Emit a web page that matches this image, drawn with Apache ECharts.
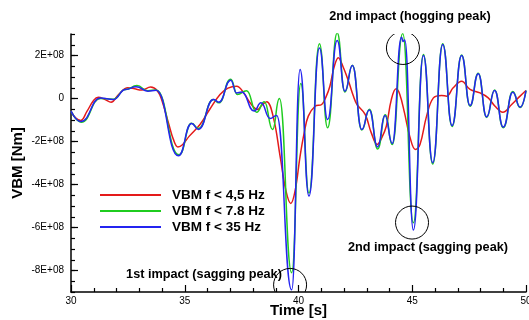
<!DOCTYPE html>
<html><head><meta charset="utf-8">
<script src="https://cdn.jsdelivr.net/npm/echarts@6/dist/echarts.min.js"></script>
<style>html,body{margin:0;padding:0;background:#fff}#c{width:529px;height:320px}</style>
</head><body><div id="c"></div>
<script>
// Series names
const seriesNames = ['VBM f < 4,5 Hz', 'VBM f < 7.8 Hz', 'VBM f < 35 Hz'];
const seriesColors = ['#e41a1a', '#1fcc1f', '#2424f0'];

// Red: VBM f < 4,5 Hz  (time [s], value [1E+08 Nm])
const redT = [30.0, 30.2, 30.43, 30.7, 31.0, 31.2, 31.5, 31.76, 32.1, 32.5, 32.8, 33.1, 33.5, 33.8, 34.0, 34.3, 34.5, 34.7, 34.9, 35.2, 35.67, 36.1, 36.55, 36.9, 37.28, 37.6, 37.87, 38.2, 38.4, 38.6, 38.9, 39.19, 39.45, 39.66, 39.85, 40.07, 40.25, 40.43, 40.73, 41.02, 41.2, 41.38, 41.55, 41.75, 41.95, 42.2, 42.4, 42.57, 42.93, 43.2, 43.46, 43.65, 43.86, 44.08, 44.29, 44.45, 44.66, 44.9, 45.14, 45.34, 45.63, 45.93, 46.29, 46.51, 46.8, 47.17, 47.54, 47.98, 48.34, 48.64, 48.98, 49.37, 49.74, 50.0];
const redV = [-0.59, -0.9, -1.02, -0.6, -0.08, 0.06, -0.05, -0.17, 0.2, 0.5, 0.45, 0.39, 0.53, 0.35, -0.1, -1.2, -1.9, -2.25, -2.15, -1.75, -1.21, -0.5, 0.19, 0.48, 0.57, 0.25, -0.2, -0.51, -0.3, -0.15, -0.9, -2.68, -4.3, -4.88, -4.3, -2.68, -1.6, -0.82, -0.36, -0.28, 0.05, 0.57, 1.4, 1.9, 1.5, 0.8, 0.15, -0.28, -0.74, -1.6, -2.14, -1.85, -1.29, -0.05, 0.45, 0.2, -0.67, -1.8, -2.37, -2.14, -0.82, 0.03, 0.14, 0.11, 0.5, 0.8, 0.42, 0.26, 0.03, -0.36, -0.64, -0.28, 0.11, 0.37];

// Green: VBM f < 7.8 Hz (extrema)
const greenT = [30.0, 30.45, 31.3, 31.85, 32.4, 32.9, 33.38, 33.74, 34.75, 35.3, 35.6, 36.26, 36.5, 37.02, 37.31, 37.72, 38.16, 38.5, 38.86, 39.16, 39.7, 40.1, 40.46, 40.92, 41.28, 41.7, 42.04, 42.37, 42.78, 43.12, 43.48, 43.82, 44.12, 44.58, 45.05, 45.49, 45.9, 46.34, 46.75, 47.17, 47.54, 47.9, 48.27, 48.62, 49.0, 49.42, 49.74, 50.0];
const greenV = [-0.59, -1.1, 0.0, -0.03, 0.42, 0.6, 0.36, 0.4, -2.62, -1.15, -1.4, -0.05, -0.2, 0.9, 0.19, 0.36, -0.64, -0.15, -1.44, 0.0, -8.1, 0.7, -4.4, 2.55, -1.36, 3.05, 0.3, 1.55, -1.47, -0.5, -2.35, -0.75, -2.14, 3.02, -5.78, 2.05, -3.05, 2.55, -1.3, 2.02, -0.36, 1.18, -0.88, 0.4, -1.36, 0.33, -0.42, 0.37];

// Blue: VBM f < 35 Hz (extrema)
const blueT = [30.0, 30.43, 31.3, 31.85, 32.4, 32.86, 33.38, 33.74, 34.72, 35.3, 35.6, 36.26, 36.5, 37.02, 37.28, 37.5, 38.05, 38.35, 38.75, 39.04, 39.7, 40.07, 40.46, 40.92, 41.28, 41.7, 42.04, 42.37, 42.78, 43.11, 43.48, 43.8, 44.12, 44.53, 44.6, 44.67, 45.05, 45.49, 45.9, 46.34, 46.75, 47.17, 47.54, 47.9, 48.27, 48.62, 49.0, 49.42, 49.74, 50.0];
const blueV = [-0.59, -1.07, 0.02, -0.05, 0.42, 0.55, 0.34, 0.38, -2.66, -1.16, -1.44, -0.05, -0.17, 0.85, 0.26, 0.3, -0.58, -0.2, -0.93, -0.79, -8.9, 1.35, -4.54, 2.35, -0.98, 2.7, 0.34, 1.53, -1.44, -0.54, -2.25, -0.79, -2.09, 2.85, 2.65, 2.72, -6.12, 2.0, -2.99, 2.51, -1.26, 2.0, -0.33, 1.15, -0.85, 0.37, -1.33, 0.29, -0.4, 0.37];

// Axis ticks
const yMajorTicks = [-8, -6, -4, -2, 0, 2];

// Impact annotations (circle centres in data units)
const impactT = [39.63, 44.59, 44.99];
const impactV = [-8.67, 2.35, -5.77];
const impactLabels = ['1st impact (sagging peak)', '2nd impact (hogging peak)', '2nd impact (sagging peak)'];

function pairs(t, v) { return t.map((x, i) => [x, v[i]]); }
const FONT = '"Liberation Sans", Arial, sans-serif';
const chart = echarts.init(document.getElementById('c'), null, { renderer: 'canvas' });

const lineSeries = (name, t, v, color, mono, smooth) => ({
  type: 'line', name: name, data: pairs(t, v), showSymbol: false, symbol: 'none',
  smooth: smooth, smoothMonotone: mono, color: color, clip: true,
  lineStyle: { width: 1.5, color: color }, yAxisIndex: 0, z: 3
});

chart.setOption({
  animation: false,
  textStyle: { fontFamily: FONT },
  grid: { left: 71, right: 3, top: 34, bottom: 28, outerBoundsMode: 'none' },
  legend: {
    orient: 'vertical', left: 95, top: 183, itemWidth: 61, itemHeight: 2, itemGap: 2,
    icon: 'rect', data: seriesNames,
    textStyle: { fontSize: 13.5, fontWeight: 'bold', color: '#000', fontFamily: FONT, padding: [0, 0, 0, 6] }
  },
  xAxis: {
    type: 'value', min: 30, max: 50, interval: 5,
    name: 'Time [s]', nameLocation: 'middle', nameGap: 11, nameMoveOverlap: false,
    nameTextStyle: { fontSize: 15, fontWeight: 'bold', color: '#000', fontFamily: FONT },
    axisLine: { onZero: false, lineStyle: { color: '#000', width: 1.5 } },
    axisTick: { inside: true, length: 7, lineStyle: { color: '#000', width: 1.2 } },
    minorTick: { show: true, splitNumber: 5, length: 4, lineStyle: { color: '#000', width: 1.2 } },
    axisLabel: { fontSize: 10, color: '#000', margin: 4, fontFamily: FONT },
    splitLine: { show: false }, minorSplitLine: { show: false }
  },
  yAxis: [
    {
      type: 'value', min: -9, max: 3,
      name: 'VBM [Nm]', nameLocation: 'middle', nameGap: 46, nameMoveOverlap: false,
      nameTextStyle: { fontSize: 15, fontWeight: 'bold', color: '#000', fontFamily: FONT },
      axisLine: { show: true, onZero: false, lineStyle: { color: '#000', width: 1.5 } },
      axisTick: { show: true, inside: true, length: 7, customValues: yMajorTicks, lineStyle: { color: '#000', width: 1.2 } },
      axisLabel: { customValues: yMajorTicks, fontSize: 10, color: '#000', margin: 7, fontFamily: FONT,
        formatter: v => (v === 0 ? '0' : v + 'E+08') },
      splitLine: { show: false }
    },
    {
      type: 'value', min: -9, max: 3, interval: 0.5, position: 'left',
      axisLine: { show: false, onZero: false },
      axisTick: { show: true, inside: true, length: 4, lineStyle: { color: '#000', width: 1.2 } },
      axisLabel: { show: false }, splitLine: { show: false }
    }
  ],
  graphic: [
    { type: 'text', x: 204, y: 274, style: { text: impactLabels[0], font: 'bold 12.7px ' + FONT, fill: '#000', align: 'center', verticalAlign: 'middle' } },
    { type: 'text', x: 410, y: 16, style: { text: impactLabels[1], font: 'bold 12.7px ' + FONT, fill: '#000', align: 'center', verticalAlign: 'middle' } },
    { type: 'text', x: 428, y: 247, style: { text: impactLabels[2], font: 'bold 12.7px ' + FONT, fill: '#000', align: 'center', verticalAlign: 'middle' } }
  ],
  series: [
    lineSeries(seriesNames[0], redT, redV, seriesColors[0], null, 0.4),
    lineSeries(seriesNames[1], greenT, greenV, seriesColors[1], 'x', 0.5),
    lineSeries(seriesNames[2], blueT, blueV, seriesColors[2], 'x', 0.5),
    {
      type: 'custom', name: 'impacts', clip: true, silent: true, z: 5,
      data: pairs(impactT, impactV),
      renderItem: (params, api) => {
        const p = api.coord([api.value(0), api.value(1)]);
        return { type: 'circle', shape: { cx: p[0], cy: p[1], r: 16.5 }, style: { fill: 'none', stroke: '#000', lineWidth: 1 } };
      }
    }
  ]
});
</script></body></html>
